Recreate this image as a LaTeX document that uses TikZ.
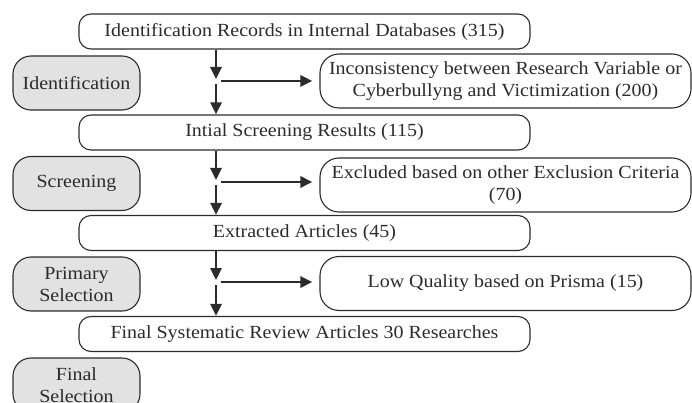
\documentclass[tikz,border=0pt]{standalone}
\usepackage{fontspec}
\setmainfont{Liberation Serif}[FakeStretch=1.08]
\usetikzlibrary{arrows.meta}
\definecolor{ink}{HTML}{2B2B2B}
\definecolor{sidegray}{HTML}{E2E2E2}
\tikzset{
  boxfont/.style={font=\fontsize{18.5}{22}\selectfont},
  mainbox/.style={draw=ink, line width=1.1pt, rounded corners=12pt, minimum width=451pt, minimum height=35pt, inner sep=0pt, text=ink, boxfont, align=center},
  sidebox/.style={draw=ink, fill=sidegray, line width=1.1pt, rounded corners=18pt, minimum width=127pt, minimum height=54pt, inner sep=0pt, text=ink, boxfont, align=center},
  rightbox/.style={draw=ink, line width=1.1pt, rounded corners=19pt, minimum width=371pt, minimum height=54pt, inner sep=0pt, text=ink, boxfont, align=center},
  flow/.style={draw=ink, line width=2.6pt, -{Triangle[length=12pt,width=11pt]}}
}
\begin{document}
\begin{tikzpicture}[x=1pt,y=-1pt]
\useasboundingbox (0,0) rectangle (692,403);
\clip (0,0) rectangle (692,403);
% main column
\node[mainbox] (b1) at (304.5,31.5) {Identification Records in Internal Databases (315)};
\node[mainbox] (b2) at (304.5,132.5) {Intial Screening Results (115)};
\node[mainbox] (b3) at (304.5,233) {Extracted Articles (45)};
\node[mainbox] (b4) at (304.5,334) {Final Systematic Review Articles 30 Researches};
% side labels
\node[sidebox] (s1) at (76.5,83) {Identification};
\node[sidebox] (s2) at (76.5,183.5) {Screening};
\node[sidebox] (s3) at (76.5,284) {Primary\\Selection};
\node[sidebox] (s4) at (76.5,385) {Final\\Selection};
% right boxes
\node[rightbox] (r1) at (505.5,81) {Inconsistency between Research Variable or\\Cyberbullyng and Victimization (200)};
\node[rightbox] (r2) at (505.5,185) {Excluded based on other Exclusion Criteria\\(70)};
\node[rightbox] (r3) at (505.5,283.5) {Low Quality based on Prisma (15)};
% junction coordinates
\coordinate (a1) at (216,79); \coordinate (c1) at (216,84); \coordinate (h1) at (221,81);
\coordinate (a2) at (216,180); \coordinate (c2) at (216,185); \coordinate (h2) at (221,182);
\coordinate (a3) at (216,280); \coordinate (c3) at (216,285); \coordinate (h3) at (221,282);
% connectors
\draw[flow] (b1.south -| a1) -- (a1);
\draw[flow] (c1) -- (b2.north -| c1);
\draw[flow, shorten >=7pt] (h1) -- (h1 -| r1.west);
\draw[flow] (b2.south -| a2) -- (a2);
\draw[flow] (c2) -- (b3.north -| c2);
\draw[flow, shorten >=7pt] (h2) -- (h2 -| r2.west);
\draw[flow] (b3.south -| a3) -- (a3);
\draw[flow] (c3) -- (b4.north -| c3);
\draw[flow, shorten >=7pt] (h3) -- (h3 -| r3.west);
\end{tikzpicture}
\end{document}
